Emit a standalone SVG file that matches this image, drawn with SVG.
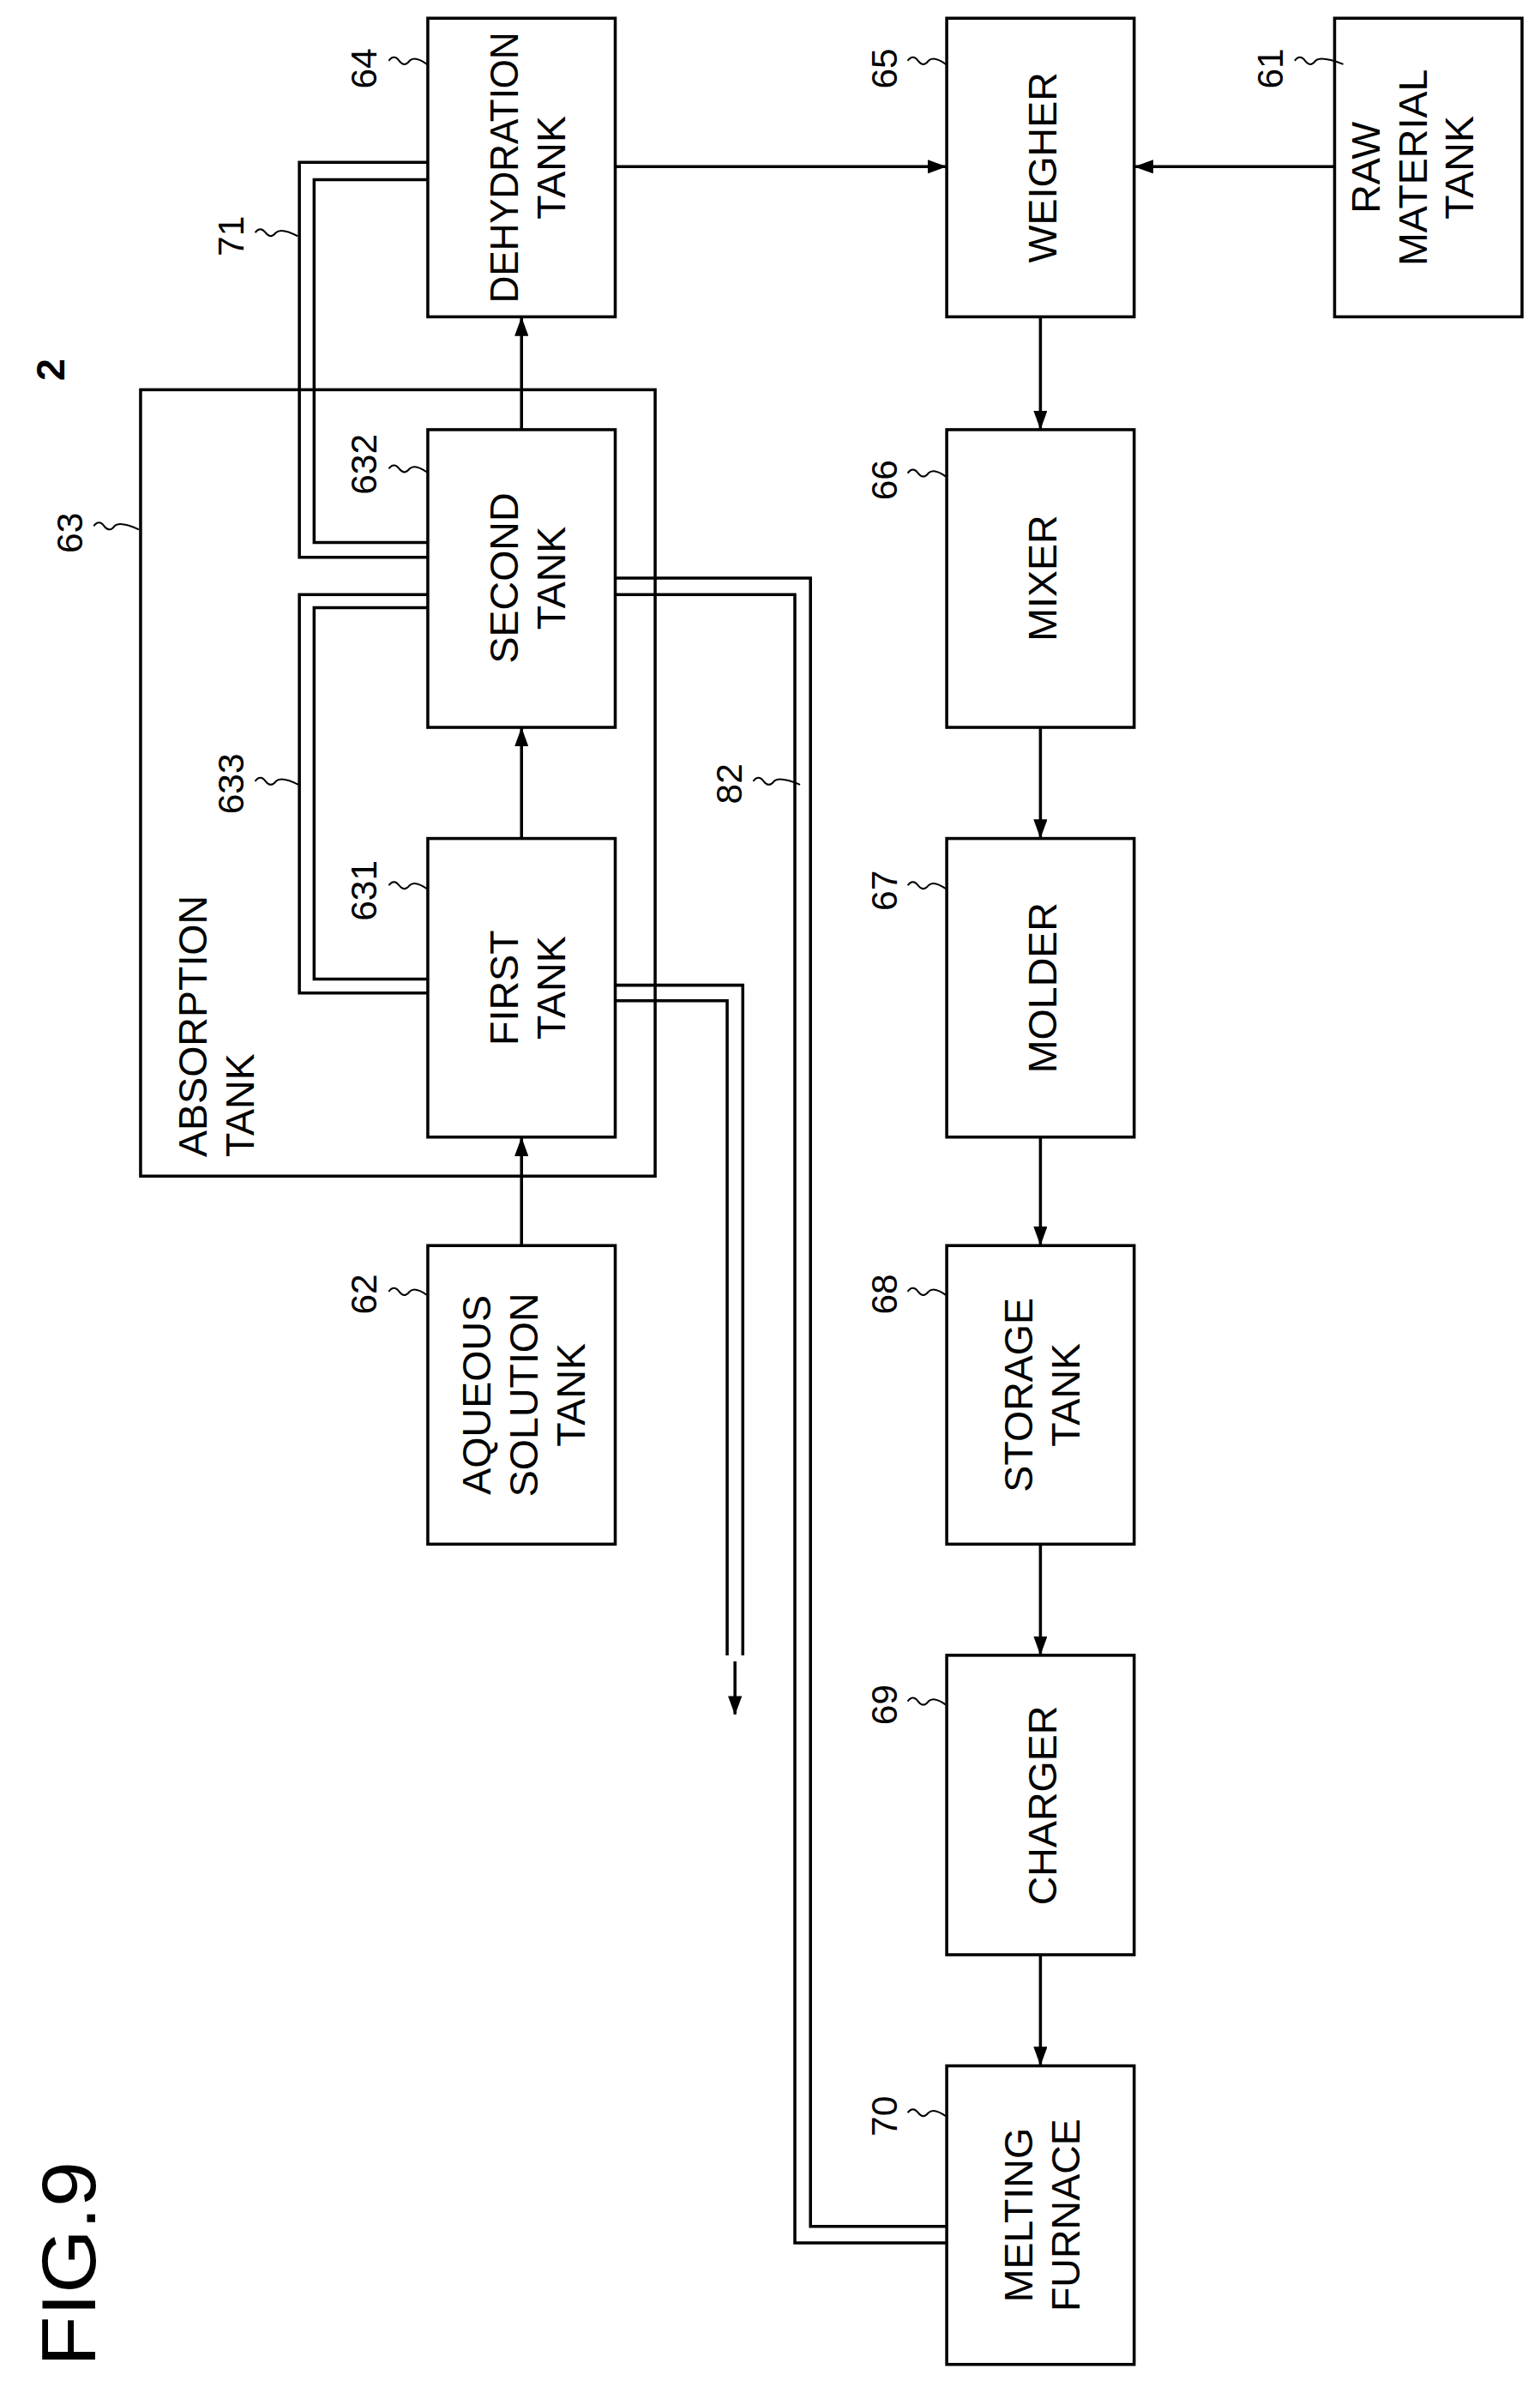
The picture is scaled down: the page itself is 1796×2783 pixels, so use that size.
<svg xmlns="http://www.w3.org/2000/svg" width="1796" height="2783" viewBox="0 0 1796 2783">
<defs>
<marker id="ah" markerWidth="22" markerHeight="16" refX="21" refY="8" orient="auto" markerUnits="userSpaceOnUse" viewBox="0 0 22 16"><path d="M0,0 L22,8 L0,16 z" fill="#000"/></marker>
<style>
rect{fill:#fff;stroke:#000;stroke-width:3.5}
.ln{fill:none;stroke:#000;stroke-width:3.5}
.ar{fill:none;stroke:#000;stroke-width:3.5;marker-end:url(#ah)}
text{font-family:"Liberation Sans",Arial,sans-serif;fill:#000}
.b{font-size:46px;text-anchor:middle}
.n{font-size:42px;text-anchor:middle}
.t{fill:none;stroke:#000;stroke-width:2}
</style>
</defs>
<g transform="scale(1.012)">
<rect id="absorption" x="162" y="449" width="593" height="906" style="fill:none"/>
<g id="connectors">
<path class="ln" d="M493,187 H345 V642 H493"/>
<path class="ln" d="M493,207 H362 V625 H493"/>
<path class="ln" d="M493,685 H345 V1144 H493"/>
<path class="ln" d="M493,700 H362 V1128 H493"/>
<path class="ln" d="M709,666 H934 V2565 H1091"/>
<path class="ln" d="M709,685 H916 V2584 H1091"/>
<path class="ln" d="M709,1135 H856 V1907"/>
<path class="ln" d="M709,1153 H838 V1907"/>
<line class="ar" x1="847" y1="1914" x2="847" y2="1975"/>
<line class="ar" x1="709" y1="192" x2="1090" y2="192"/>
<line class="ar" x1="1538" y1="192" x2="1308" y2="192"/>
<line class="ar" x1="601" y1="1435" x2="601" y2="1311"/>
<line class="ar" x1="601" y1="966" x2="601" y2="839"/>
<line class="ar" x1="601" y1="495" x2="601" y2="366"/>
<line class="ar" x1="1199" y1="365" x2="1199" y2="494"/>
<line class="ar" x1="1199" y1="838" x2="1199" y2="965"/>
<line class="ar" x1="1199" y1="1310" x2="1199" y2="1434"/>
<line class="ar" x1="1199" y1="1779" x2="1199" y2="1906"/>
<line class="ar" x1="1199" y1="2252" x2="1199" y2="2379"/>
</g>
<g id="n64"><rect x="493" y="21" width="216" height="344"/>
<text class="b" textLength="312" lengthAdjust="spacingAndGlyphs" transform="translate(597,193) rotate(-90)">DEHYDRATION</text>
<text class="b" transform="translate(651,193) rotate(-90)">TANK</text></g>
<g id="n65"><rect x="1091" y="21" width="216" height="344"/>
<text class="b" transform="translate(1217,193) rotate(-90)">WEIGHER</text></g>
<g id="n61"><rect x="1538" y="21" width="216" height="344"/>
<text class="b" transform="translate(1590,193) rotate(-90)">RAW</text>
<text class="b" transform="translate(1644,193) rotate(-90)">MATERIAL</text>
<text class="b" transform="translate(1698,193) rotate(-90)">TANK</text></g>
<g id="n632"><rect x="493" y="495" width="216" height="343"/>
<text class="b" transform="translate(597,666) rotate(-90)">SECOND</text>
<text class="b" transform="translate(651,666) rotate(-90)">TANK</text></g>
<g id="n631"><rect x="493" y="966" width="216" height="344"/>
<text class="b" transform="translate(597,1138) rotate(-90)">FIRST</text>
<text class="b" transform="translate(651,1138) rotate(-90)">TANK</text></g>
<g id="n62"><rect x="493" y="1435" width="216" height="344"/>
<text class="b" transform="translate(565,1607) rotate(-90)">AQUEOUS</text>
<text class="b" transform="translate(620,1607) rotate(-90)">SOLUTION</text>
<text class="b" transform="translate(674,1607) rotate(-90)">TANK</text></g>
<g id="n66"><rect x="1091" y="495" width="216" height="343"/>
<text class="b" transform="translate(1217,666) rotate(-90)">MIXER</text></g>
<g id="n67"><rect x="1091" y="966" width="216" height="344"/>
<text class="b" transform="translate(1217,1138) rotate(-90)">MOLDER</text></g>
<g id="n68"><rect x="1091" y="1435" width="216" height="344"/>
<text class="b" transform="translate(1190,1607) rotate(-90)">STORAGE</text>
<text class="b" transform="translate(1244,1607) rotate(-90)">TANK</text></g>
<g id="n69"><rect x="1091" y="1907" width="216" height="345"/>
<text class="b" transform="translate(1217,2080) rotate(-90)">CHARGER</text></g>
<g id="n70"><rect x="1091" y="2380" width="216" height="344"/>
<text class="b" transform="translate(1190,2552) rotate(-90)">MELTING</text>
<text class="b" transform="translate(1244,2552) rotate(-90)">FURNACE</text></g>
<g id="n63">
<text style="font-size:46px" transform="translate(238,1333) rotate(-90)">ABSORPTION</text>
<text style="font-size:46px" transform="translate(292,1333) rotate(-90)">TANK</text></g>
<g id="labels">
<text class="n" transform="translate(434,79) rotate(-90)">64</text>
<path class="t" d="M448,70 q6,-8 12,0 t12,0 q6,-6 20,4"/>
<text class="n" transform="translate(1034,79) rotate(-90)">65</text>
<path class="t" d="M1046,70 q6,-8 12,0 t12,0 q6,-6 20,4"/>
<text class="n" transform="translate(1478,79) rotate(-90)">61</text>
<path class="t" d="M1492,70 q6,-8 12,0 t12,0 q6,-6 32,4"/>
<text class="n" transform="translate(95,614) rotate(-90)">63</text>
<path class="t" d="M108,606 q6,-8 12,0 t12,0 q6,-6 28,4"/>
<text class="n" transform="translate(434,535) rotate(-90)">632</text>
<path class="t" d="M448,540 q6,-8 12,0 t12,0 q6,-6 20,4"/>
<text class="n" transform="translate(1034,553) rotate(-90)">66</text>
<path class="t" d="M1046,545 q6,-8 12,0 t12,0 q6,-6 20,4"/>
<text class="n" transform="translate(281,903) rotate(-90)">633</text>
<path class="t" d="M294,900 q6,-8 12,0 t12,0 q6,-6 26,4"/>
<text class="n" transform="translate(855,903) rotate(-90)">82</text>
<path class="t" d="M868,900 q6,-8 12,0 t12,0 q6,-6 30,4"/>
<text class="n" transform="translate(434,1026) rotate(-90)">631</text>
<path class="t" d="M448,1020 q6,-8 12,0 t12,0 q6,-6 20,4"/>
<text class="n" transform="translate(1034,1026) rotate(-90)">67</text>
<path class="t" d="M1046,1020 q6,-8 12,0 t12,0 q6,-6 20,4"/>
<text class="n" transform="translate(434,1491) rotate(-90)">62</text>
<path class="t" d="M448,1488 q6,-8 12,0 t12,0 q6,-6 20,4"/>
<text class="n" transform="translate(1034,1491) rotate(-90)">68</text>
<path class="t" d="M1046,1488 q6,-8 12,0 t12,0 q6,-6 20,4"/>
<text class="n" transform="translate(1034,1964) rotate(-90)">69</text>
<path class="t" d="M1046,1960 q6,-8 12,0 t12,0 q6,-6 20,4"/>
<text class="n" transform="translate(1034,2438) rotate(-90)">70</text>
<path class="t" d="M1046,2434 q6,-8 12,0 t12,0 q6,-6 20,4"/>
<text class="n" transform="translate(281,272) rotate(-90)">71</text>
<path class="t" d="M294,268 q6,-8 12,0 t12,0 q6,-6 25,4"/>
<text class="n" style="font-weight:bold;font-size:46px" transform="translate(74,426) rotate(-90)">2</text>
<text style="font-size:88px;text-anchor:middle" textLength="236" lengthAdjust="spacingAndGlyphs" transform="translate(110,2608) rotate(-90)">FIG.9</text>
</g>
</g>
</svg>
